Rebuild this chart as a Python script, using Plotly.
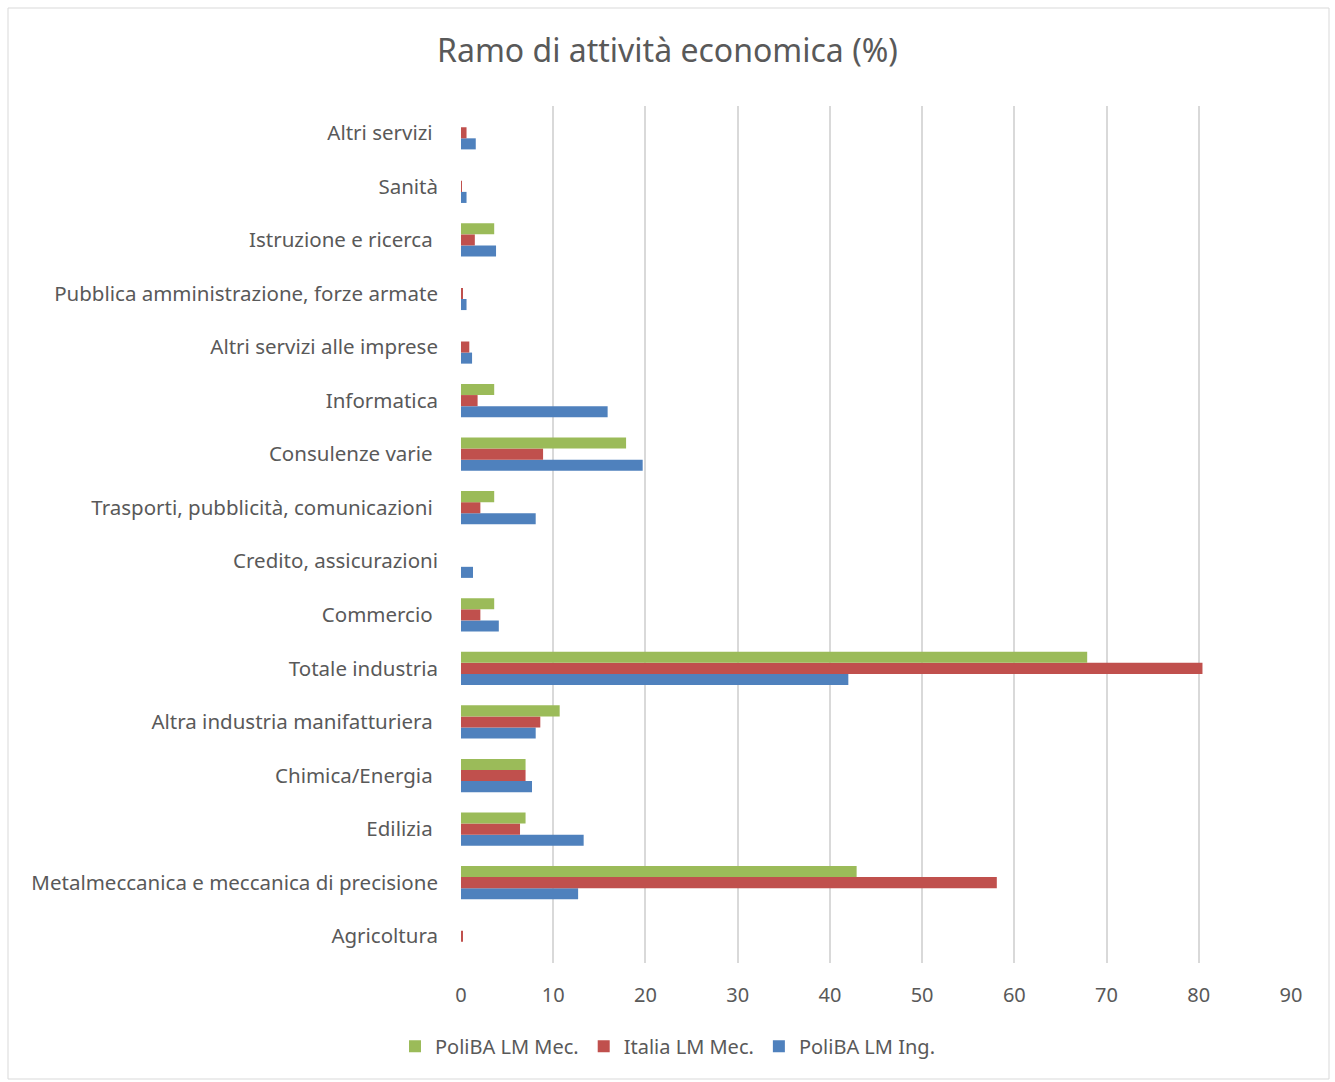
import plotly.graph_objects as go

categories = [
    "Agricoltura",
    "Metalmeccanica e meccanica di precisione",
    "Edilizia\u00a0",
    "Chimica/Energia\u00a0",
    "Altra industria manifatturiera\u00a0",
    "Totale industria",
    "Commercio\u00a0",
    "Credito, assicurazioni",
    "Trasporti, pubblicità, comunicazioni\u00a0",
    "Consulenze varie\u00a0",
    "Informatica",
    "Altri servizi alle imprese",
    "Pubblica amministrazione, forze armate",
    "Istruzione e ricerca\u00a0",
    "Sanità",
    "Altri servizi\u00a0",
]

poliba_ing = [0.0, 12.7, 13.3, 7.7, 8.1, 42.0, 4.1, 1.3, 8.1, 19.7, 15.9, 1.2, 0.6, 3.8, 0.6, 1.6]
italia_mec = [0.2, 58.1, 6.4, 7.0, 8.6, 80.4, 2.1, 0.0, 2.1, 8.9, 1.8, 0.9, 0.2, 1.5, 0.05, 0.6]
poliba_mec = [0.0, 42.9, 7.0, 7.0, 10.7, 67.9, 3.6, 0.0, 3.6, 17.9, 3.6, 0.0, 0.0, 3.6, 0.0, 0.0]

series = [
    ("PoliBA LM Ing.", poliba_ing, "#4f81bd"),
    ("Italia LM Mec.", italia_mec, "#c0504d"),
    ("PoliBA LM Mec.", poliba_mec, "#9bbb59"),
]

fig = go.Figure()
for name, vals, color in series:
    fig.add_trace(go.Bar(
        y=categories, x=vals, name=name, orientation="h",
        marker=dict(color=color, line=dict(width=0)),
    ))

font_family = "Noto Sans"
fig.update_layout(
    barmode="group",
    bargap=0.38,
    bargroupgap=0,
    width=1335, height=1082,
    paper_bgcolor="white", plot_bgcolor="white",
    margin=dict(l=461, r=44, t=106, b=119),
    font=dict(family=font_family, color="#595959", size=20),
    title=dict(text="Ramo di attività economica (%)", x=0.5, xref="container",
               xanchor="center", y=0.953, yanchor="middle",
               font=dict(size=32, color="#595959", family=font_family)),
    legend=dict(orientation="h", traceorder="reversed", x=0.5, xref="container",
                xanchor="center", y=0.033, yref="container", yanchor="middle",
                font=dict(size=20, color="#595959"), itemwidth=30),
    showlegend=True,
)
fig.update_xaxes(range=[0, 90], dtick=10, showgrid=True, gridcolor="#d9d9d9",
                 gridwidth=2, zeroline=False, showline=False, ticks="",
                 ticklabelstandoff=18,
                 tickfont=dict(size=20, color="#595959"), fixedrange=True)
fig.update_yaxes(categoryorder="array", categoryarray=categories, showgrid=False,
                 showline=False, ticks="", ticklabelstandoff=22,
                 tickfont=dict(size=20.5, color="#595959"))

fig.add_shape(type="rect", xref="paper", yref="paper",
              x0=-453/830, x1=(1329-461)/830, y0=-(1079-963)/857, y1=(963-8)/857,
              line=dict(color="#d9d9d9", width=1), fillcolor="rgba(0,0,0,0)", layer="below")

fig.write_html("out.html")
